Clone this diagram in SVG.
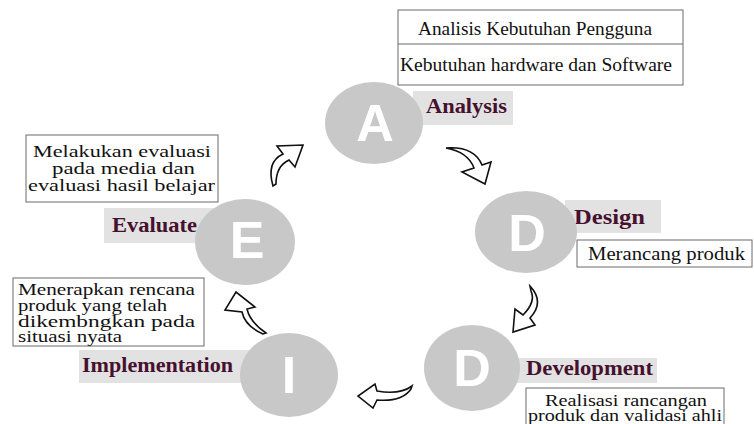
<svg xmlns="http://www.w3.org/2000/svg" width="754" height="424" viewBox="0 0 754 424">
<style>
.bg{fill:#ffffff}
.circ{fill:#c8c8c8}
.letter{font-family:"Liberation Sans",Arial,sans-serif;font-weight:bold;font-size:52px;fill:#ffffff;text-anchor:middle}
.lblbox{fill:#e2e2e2}
.lbl{font-family:"Liberation Serif","Times New Roman",Times,serif;font-weight:bold;font-size:20px;fill:#46112e}
.box{fill:#ffffff;stroke:#6a6a6a;stroke-width:1}
.txt{font-family:"Liberation Serif","Times New Roman",Times,serif;font-size:17px;fill:#111111}
.big{font-size:18px}
.tight{font-size:16px}
.arrow{fill:#ffffff;stroke:#111111;stroke-width:1.6;stroke-linejoin:miter}
</style>
<rect class="bg" x="0" y="0" width="754" height="424"/>

<g id="node-analysis">
  <rect class="box" x="398" y="10" width="285" height="75"/>
  <line x1="398" y1="44" x2="683" y2="44" stroke="#6a6a6a" stroke-width="1"/>
  <text class="txt big" x="418" y="35" textLength="234" lengthAdjust="spacingAndGlyphs">Analisis Kebutuhan Pengguna</text>
  <text class="txt big" x="400" y="71" textLength="272" lengthAdjust="spacingAndGlyphs">Kebutuhan hardware dan Software</text>
  <rect class="lblbox" x="413" y="91" width="100" height="34"/>
  <text class="lbl" x="426" y="113" textLength="81" lengthAdjust="spacingAndGlyphs">Analysis</text>
  <ellipse class="circ" cx="374" cy="123" rx="49" ry="41"/>
  <text class="letter" x="375" y="141">A</text>
</g>

<g id="node-design">
  <rect class="lblbox" x="565" y="200" width="96" height="33"/>
  <text class="lbl" x="574" y="224" textLength="71" lengthAdjust="spacingAndGlyphs">Design</text>
  <rect class="box" x="577" y="240" width="175" height="27"/>
  <text class="txt big" x="588" y="260" textLength="157" lengthAdjust="spacingAndGlyphs">Merancang produk</text>
  <ellipse class="circ" cx="526" cy="232" rx="51" ry="41"/>
  <text class="letter" x="527" y="251">D</text>
</g>

<g id="node-development">
  <rect class="lblbox" x="500" y="358" width="157" height="25"/>
  <text class="lbl" x="526" y="375" textLength="127" lengthAdjust="spacingAndGlyphs">Development</text>
  <rect class="box" x="526" y="388" width="198" height="40"/>
  <text class="txt tight" x="545" y="406" textLength="162" lengthAdjust="spacingAndGlyphs">Realisasi rancangan</text>
  <text class="txt tight" x="528" y="421" textLength="194" lengthAdjust="spacingAndGlyphs">produk dan validasi ahli</text>
  <ellipse class="circ" cx="472" cy="368" rx="48" ry="43"/>
  <text class="letter" x="472" y="386">D</text>
</g>

<g id="node-implementation">
  <rect class="box" x="13" y="278" width="191" height="68"/>
  <text class="txt tight" x="18" y="295" textLength="177" lengthAdjust="spacingAndGlyphs">Menerapkan rencana</text>
  <text class="txt tight" x="18" y="311" textLength="149" lengthAdjust="spacingAndGlyphs">produk yang telah</text>
  <text class="txt tight" x="18" y="327" textLength="177" lengthAdjust="spacingAndGlyphs">dikembngkan pada</text>
  <text class="txt tight" x="18" y="342" textLength="104" lengthAdjust="spacingAndGlyphs">situasi nyata</text>
  <rect class="lblbox" x="79" y="350" width="176" height="33"/>
  <text class="lbl" x="82" y="372" textLength="151" lengthAdjust="spacingAndGlyphs">Implementation</text>
  <ellipse class="circ" cx="289" cy="375" rx="49" ry="42"/>
  <text class="letter" x="289" y="393">I</text>
</g>

<g id="node-evaluate">
  <rect class="box" x="26" y="135" width="192" height="67"/>
  <text class="txt" x="33" y="157" textLength="178" lengthAdjust="spacingAndGlyphs">Melakukan evaluasi</text>
  <text class="txt" x="52" y="174" textLength="143" lengthAdjust="spacingAndGlyphs">pada media dan</text>
  <text class="txt" x="28" y="191" textLength="187" lengthAdjust="spacingAndGlyphs">evaluasi hasil belajar</text>
  <rect class="lblbox" x="104" y="208" width="110" height="35"/>
  <text class="lbl" x="112" y="232" textLength="85" lengthAdjust="spacingAndGlyphs">Evaluate</text>
  <ellipse class="circ" cx="245" cy="242" rx="50" ry="43"/>
  <text class="letter" x="247" y="258">E</text>
</g>

<g id="connectors">
  <path class="arrow" d="M446,148 Q474,146 482,165 L491,162 L485,184 L462,172 L474,168 Q468,152 446,148 Z"/>
  <path class="arrow" d="M530,286 Q545,302 530,318 L535,325 L513,332 L515,309 L523,315 Q536,302 531,291 Z"/>
  <path class="arrow" d="M412,386 Q400,395 377,391 L375,384 L358,396 L373,408 L377,400 Q402,402 411,389 Z"/>
  <path class="arrow" d="M266,333 Q250,322 247,309 L255,307 L236,292 L225,310 L242,312 Q245,326 263,334 Z"/>
  <path class="arrow" d="M273,186 Q266,162 283,154 L277,146 L303,145 L295,167 L289,160 Q276,166 276,184 Z"/>
</g>
</svg>
